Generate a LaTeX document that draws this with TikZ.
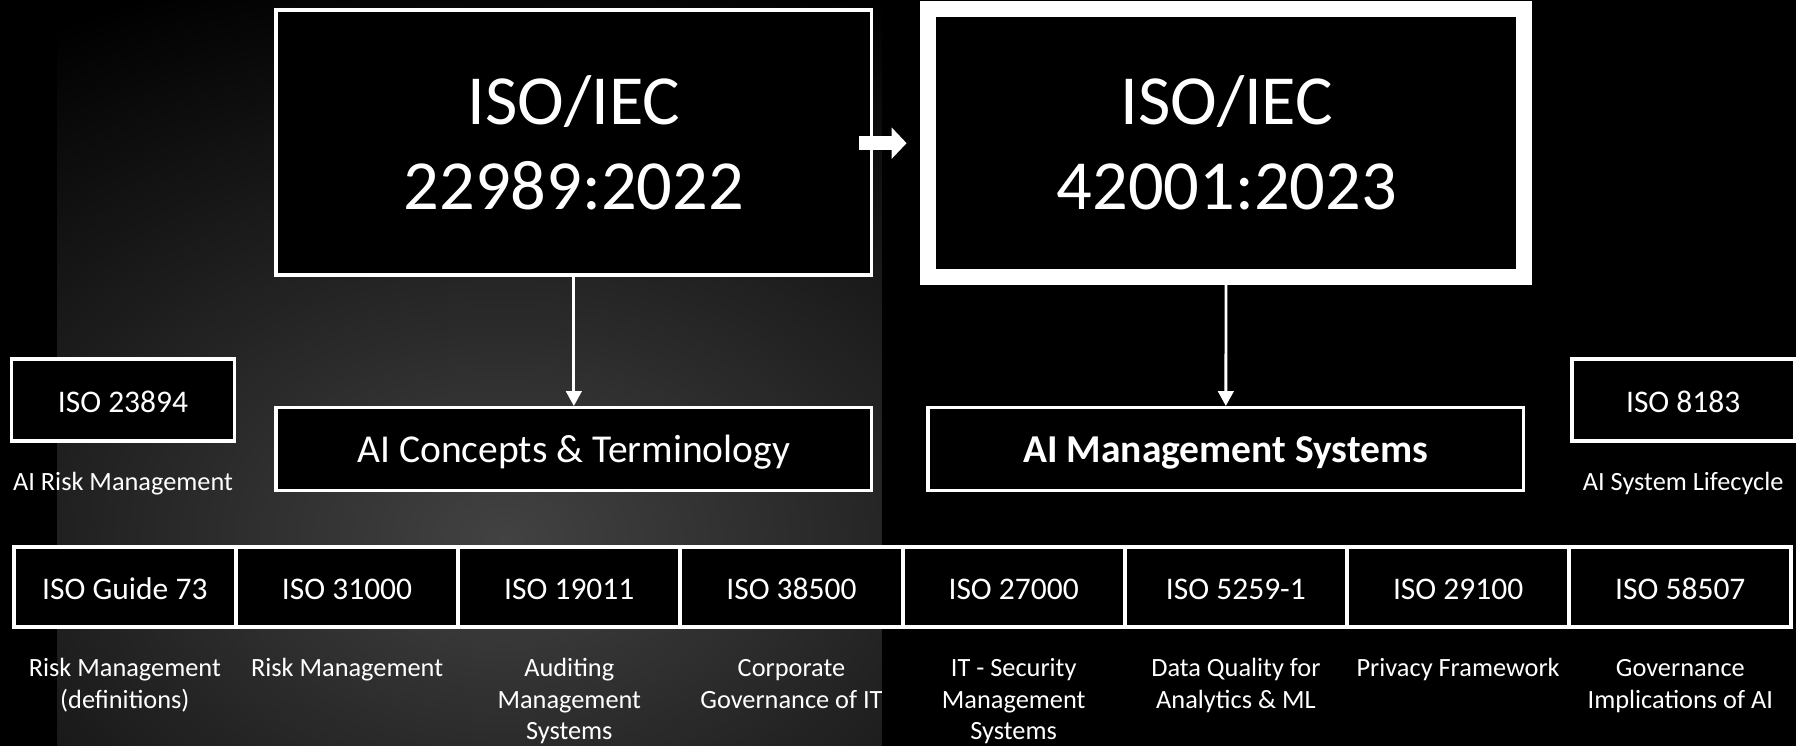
\documentclass[tikz,border=0pt]{standalone}
\usepackage{fontspec}
\setmainfont{Carlito}
\usetikzlibrary{arrows.meta,calc}
\definecolor{bgg}{RGB}{66,66,66}
\begin{document}
\begin{tikzpicture}[x=1pt,y=-1pt,
  bigbox/.style={draw=white, fill=black, inner sep=0pt},
  bigtxt/.style={text=white, inner sep=0pt, anchor=base, font=\fontsize{61.5}{75}\selectfont},
  midbox/.style={draw=white, fill=black, line width=3pt, minimum width=520pt, minimum height=72.5pt,
    inner sep=0pt, text=white, font=\fontsize{34.5}{41}\selectfont, text height=24pt, text depth=0pt},
  sidebox/.style={draw=white, fill=black, line width=3pt, minimum width=194.5pt, minimum height=71.5pt,
    inner sep=0pt, text=white, font=\fontsize{27.5}{33}\selectfont, text height=21.6pt, text depth=0pt},
  cellbox/.style={draw=white, fill=black, line width=3.5pt, minimum width=194pt, minimum height=70pt,
    inner sep=0pt, text=white, font=\fontsize{27.5}{33}\selectfont, text height=22pt, text depth=0pt},
  lbl/.style={text=white, inner sep=0pt, anchor=north, align=center, font=\fontsize{23}{27.5}\selectfont},
  conn/.style={draw=white, line width=2.5pt, -{Triangle[length=13pt,width=13.5pt]}},
  blockarrow/.style={draw=white, line width=12.4pt, -{Triangle[length=13.1pt,width=26.8pt]}}
]
% background
\fill[black] (0,0) rectangle (1568,651);
\useasboundingbox (0,0) rectangle (1568,651);
\begin{scope}
  \clip (50,0) rectangle (770,651);
  \shade[inner color=bgg, outer color=black] (-320,-50) rectangle (1200,990);
\end{scope}

% big boxes
\node[bigbox, line width=3pt, minimum width=520pt, minimum height=231.2pt] (b1) at (501,124.4) {};
\node[bigtxt] (b1a) at (501,108.3) {ISO/IEC};
\node[bigtxt] (b1b) at (501,183.3) {22989:2022};

\node[bigbox, line width=14pt, minimum width=519.8pt, minimum height=234.2pt] (b2) at (1070.4,124.9) {};
\node[bigtxt] (b2a) at (1071,108.3) {ISO/IEC};
\node[bigtxt] (b2b) at (1071,183.3) {42001:2023};

\draw[blockarrow] ($(b1.east)+(-12.5,0.6)$) -- ($(b2.west)+(-12,0.1)$);

% middle boxes
\node[midbox] (c1) at (501,392.2) {AI Concepts \& Terminology};
\node[midbox, font=\fontsize{34.5}{41}\selectfont\bfseries] (c2) at (1070.2,392.2) {AI Management Systems};

\draw[conn] (b1.south) -- (c1.north);
\draw[conn] (b2.south) -- (c2.north);

% side boxes
\node[sidebox] (s1) at (107.4,349.3) {ISO 23894};
\node[lbl] (s1l) at (107.4,408.55) {\strut AI Risk Management};
\node[sidebox] (s2) at (1469.5,349.3) {ISO 8183};
\node[lbl] (s2l) at (1469.5,408.55) {\strut AI System Lifecycle};

% bottom row
\node[cellbox] (r1) at (109,512.6) {ISO Guide 73};
\node[cellbox] (r2) at (303,512.6) {ISO 31000};
\node[cellbox] (r3) at (497,512.6) {ISO 19011};
\node[cellbox] (r4) at (691,512.6) {ISO 38500};
\node[cellbox] (r5) at (885,512.6) {ISO 27000};
\node[cellbox] (r6) at (1079,512.6) {ISO 5259-1};
\node[cellbox] (r7) at (1273,512.6) {ISO 29100};
\node[cellbox] (r8) at (1467,512.6) {ISO 58507};

\node[lbl] (l1) at (109,571.55) {\strut Risk Management\\(definitions)};
\node[lbl] (l2) at (303,571.55) {\strut Risk Management};
\node[lbl] (l3) at (497,571.55) {\strut Auditing\\Management\\Systems};
\node[lbl] (l4) at (691,571.55) {\strut Corporate\\Governance of IT};
\node[lbl] (l5) at (885,571.55) {\strut IT - Security\\Management\\Systems};
\node[lbl] (l6) at (1079,571.55) {\strut Data Quality for\\Analytics \& ML};
\node[lbl] (l7) at (1273,571.55) {\strut Privacy Framework};
\node[lbl] (l8) at (1467,571.55) {\strut Governance\\Implications of AI};
\end{tikzpicture}
\end{document}
